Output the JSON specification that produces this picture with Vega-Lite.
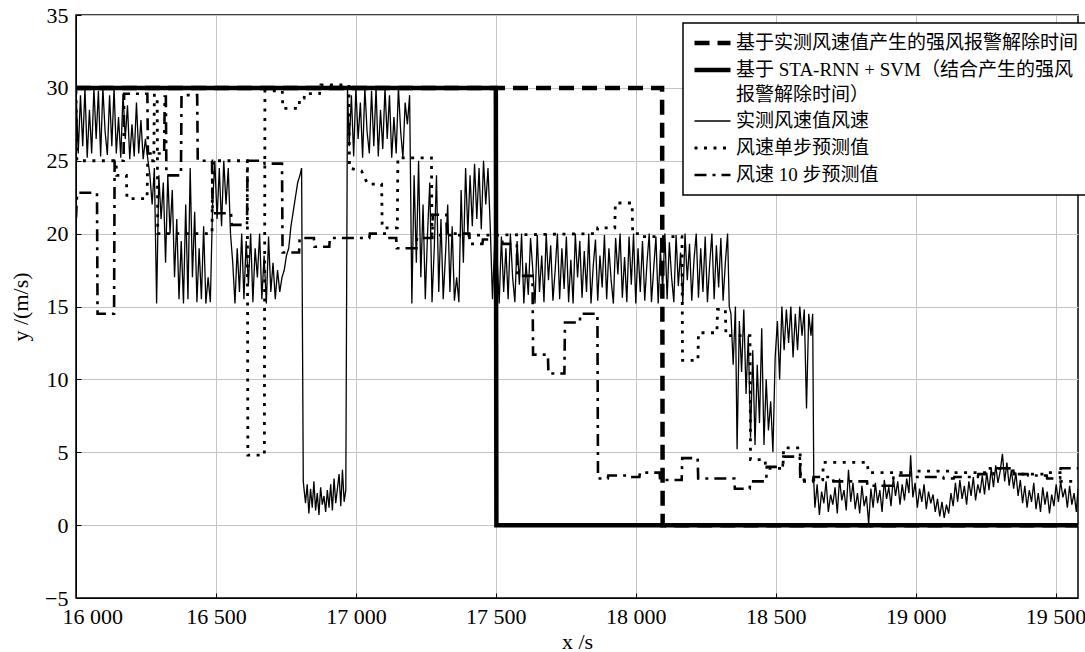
{
  "$schema": "https://vega.github.io/schema/vega-lite/v6.json",
  "width": 1002,
  "height": 583,
  "autosize": {"type": "none"},
  "padding": {"left": 76, "top": 15, "right": 7, "bottom": 54},
  "config": {
    "font": "Liberation Serif",
    "view": {"stroke": "black", "strokeWidth": 1.5},
    "axis": {"gridColor": "#c4c4c4", "gridWidth": 1, "domainColor": "black", "tickColor": "black", "labelColor": "black", "titleColor": "black", "labelFont": "Liberation Serif", "titleFont": "Liberation Serif", "labelFontSize": 22, "titleFontSize": 22, "titleFontWeight": "normal", "ticks": true, "tickSize": -5, "tickWidth": 1},
    "legend": {"title": null, "orient": "none", "legendX": 607, "legendY": 8, "fillColor": "white", "strokeColor": "black", "padding": 9, "symbolType": "stroke", "symbolSize": 1296, "clipHeight": 22, "labelFontSize": 19, "labelFont": "Liberation Serif, Noto Sans CJK SC", "labelColor": "black", "rowPadding": 5, "labelLimit": 420, "labelOffset": 3}
  },
  "data": {"values": [
{"s":"c","t":16000,"v":30},{"s":"c","t":16008,"v":25.5},{"s":"c","t":16016,"v":29.5},{"s":"c","t":16024,"v":26},{"s":"c","t":16032,"v":30},{"s":"c","t":16040,"v":25.2},{"s":"c","t":16048,"v":28.5},{"s":"c","t":16056,"v":25.5},{"s":"c","t":16064,"v":30},{"s":"c","t":16072,"v":26.5},{"s":"c","t":16080,"v":29.8},{"s":"c","t":16088,"v":25.3},{"s":"c","t":16096,"v":30},{"s":"c","t":16104,"v":27},{"s":"c","t":16112,"v":25.4},{"s":"c","t":16120,"v":29.5},{"s":"c","t":16128,"v":26},{"s":"c","t":16136,"v":30},{"s":"c","t":16144,"v":25.5},{"s":"c","t":16152,"v":28},{"s":"c","t":16160,"v":25.2},{"s":"c","t":16168,"v":29.6},{"s":"c","t":16176,"v":26.5},{"s":"c","t":16184,"v":28.8},{"s":"c","t":16192,"v":25.1},{"s":"c","t":16200,"v":27.5},{"s":"c","t":16208,"v":25.3},{"s":"c","t":16216,"v":29},{"s":"c","t":16224,"v":25.5},{"s":"c","t":16232,"v":27.8},{"s":"c","t":16240,"v":25.1},{"s":"c","t":16248,"v":26.5},{"s":"c","t":16256,"v":25.2},
{"s":"c","t":16264,"v":24},{"s":"c","t":16272,"v":22},{"s":"c","t":16280,"v":24.5},{"s":"c","t":16288,"v":15.2},{"s":"c","t":16296,"v":24},{"s":"c","t":16304,"v":21},{"s":"c","t":16312,"v":23.5},{"s":"c","t":16320,"v":18},{"s":"c","t":16328,"v":24},{"s":"c","t":16336,"v":20},{"s":"c","t":16344,"v":23},{"s":"c","t":16352,"v":17},{"s":"c","t":16360,"v":21},{"s":"c","t":16368,"v":15.5},{"s":"c","t":16376,"v":19.5},{"s":"c","t":16384,"v":15.2},{"s":"c","t":16392,"v":22},{"s":"c","t":16400,"v":15.5},{"s":"c","t":16408,"v":24.5},{"s":"c","t":16416,"v":17},{"s":"c","t":16424,"v":21.5},{"s":"c","t":16432,"v":15.3},{"s":"c","t":16440,"v":19},{"s":"c","t":16448,"v":15.5},{"s":"c","t":16456,"v":20.5},{"s":"c","t":16464,"v":15.2},{"s":"c","t":16472,"v":17},{"s":"c","t":16480,"v":15.3},
{"s":"c","t":16488,"v":22},{"s":"c","t":16496,"v":25},{"s":"c","t":16504,"v":21},{"s":"c","t":16512,"v":24.5},{"s":"c","t":16520,"v":20.5},{"s":"c","t":16528,"v":25},{"s":"c","t":16536,"v":22},{"s":"c","t":16544,"v":24.5},{"s":"c","t":16552,"v":20},
{"s":"c","t":16560,"v":18},{"s":"c","t":16568,"v":15.2},{"s":"c","t":16576,"v":19},{"s":"c","t":16584,"v":16},{"s":"c","t":16592,"v":20},{"s":"c","t":16600,"v":15.5},{"s":"c","t":16608,"v":19.5},{"s":"c","t":16616,"v":16.5},{"s":"c","t":16624,"v":20},{"s":"c","t":16632,"v":15.3},{"s":"c","t":16640,"v":19},{"s":"c","t":16648,"v":17},{"s":"c","t":16656,"v":20},{"s":"c","t":16664,"v":15.5},{"s":"c","t":16672,"v":18.5},{"s":"c","t":16680,"v":15.2},{"s":"c","t":16688,"v":19.8},{"s":"c","t":16696,"v":16},{"s":"c","t":16704,"v":18},{"s":"c","t":16712,"v":15.5},{"s":"c","t":16720,"v":17.5},{"s":"c","t":16728,"v":16},{"s":"c","t":16736,"v":17},
{"s":"c","t":16744,"v":17.5},{"s":"c","t":16752,"v":18.5},{"s":"c","t":16760,"v":19},{"s":"c","t":16768,"v":20.5},{"s":"c","t":16776,"v":21.5},{"s":"c","t":16784,"v":22.5},{"s":"c","t":16792,"v":23.5},{"s":"c","t":16800,"v":24},{"s":"c","t":16806,"v":24.5},
{"s":"c","t":16812,"v":3},{"s":"c","t":16820,"v":1.5},{"s":"c","t":16826,"v":2.8},{"s":"c","t":16832,"v":0.8},{"s":"c","t":16838,"v":2.5},{"s":"c","t":16844,"v":1.2},{"s":"c","t":16850,"v":3},{"s":"c","t":16856,"v":1},{"s":"c","t":16862,"v":2.2},{"s":"c","t":16868,"v":0.7},{"s":"c","t":16874,"v":2.6},{"s":"c","t":16880,"v":1.4},{"s":"c","t":16886,"v":2},{"s":"c","t":16892,"v":0.9},{"s":"c","t":16898,"v":2.4},{"s":"c","t":16904,"v":1.2},{"s":"c","t":16910,"v":2.8},{"s":"c","t":16916,"v":1},{"s":"c","t":16922,"v":3.2},{"s":"c","t":16928,"v":1.5},{"s":"c","t":16934,"v":2.5},{"s":"c","t":16940,"v":3.5},{"s":"c","t":16946,"v":1.3},{"s":"c","t":16952,"v":3.8},{"s":"c","t":16958,"v":1.6},{"s":"c","t":16964,"v":2.4},
{"s":"c","t":16970,"v":30},{"s":"c","t":16976,"v":26},{"s":"c","t":16984,"v":29.5},{"s":"c","t":16992,"v":25.3},{"s":"c","t":17000,"v":30},{"s":"c","t":17008,"v":26.5},{"s":"c","t":17016,"v":29},{"s":"c","t":17024,"v":25.2},{"s":"c","t":17032,"v":30},{"s":"c","t":17040,"v":27},{"s":"c","t":17048,"v":25.5},{"s":"c","t":17056,"v":29.8},{"s":"c","t":17064,"v":26},{"s":"c","t":17072,"v":30},{"s":"c","t":17080,"v":25.3},{"s":"c","t":17088,"v":28.5},{"s":"c","t":17096,"v":25.8},{"s":"c","t":17104,"v":30},{"s":"c","t":17112,"v":26.5},{"s":"c","t":17120,"v":29.5},{"s":"c","t":17128,"v":25.2},{"s":"c","t":17136,"v":28},{"s":"c","t":17144,"v":25.5},{"s":"c","t":17152,"v":30},{"s":"c","t":17160,"v":27},{"s":"c","t":17168,"v":25.2},{"s":"c","t":17176,"v":29},{"s":"c","t":17184,"v":27.5},
{"s":"c","t":17192,"v":29.5},{"s":"c","t":17200,"v":15.2},{"s":"c","t":17208,"v":24},{"s":"c","t":17216,"v":18},{"s":"c","t":17224,"v":25},{"s":"c","t":17232,"v":17},{"s":"c","t":17240,"v":22},{"s":"c","t":17248,"v":15.5},{"s":"c","t":17256,"v":20},{"s":"c","t":17264,"v":23.5},{"s":"c","t":17272,"v":15.3},{"s":"c","t":17280,"v":19},{"s":"c","t":17288,"v":24},{"s":"c","t":17296,"v":16},{"s":"c","t":17304,"v":21},{"s":"c","t":17312,"v":15.5},{"s":"c","t":17320,"v":18.5},{"s":"c","t":17328,"v":22},{"s":"c","t":17336,"v":16},{"s":"c","t":17344,"v":20.5},{"s":"c","t":17352,"v":15.4},{"s":"c","t":17360,"v":17},{"s":"c","t":17368,"v":15.3},{"s":"c","t":17376,"v":23},{"s":"c","t":17384,"v":18},{"s":"c","t":17392,"v":24.5},{"s":"c","t":17400,"v":20},
{"s":"c","t":17408,"v":24},{"s":"c","t":17416,"v":20.5},{"s":"c","t":17424,"v":24.8},{"s":"c","t":17432,"v":21},{"s":"c","t":17440,"v":24.5},{"s":"c","t":17448,"v":20.3},{"s":"c","t":17456,"v":25},{"s":"c","t":17464,"v":22},{"s":"c","t":17472,"v":24.5},{"s":"c","t":17480,"v":20.5},{"s":"c","t":17488,"v":15.5},{"s":"c","t":17496,"v":19.5},
{"s":"c","t":17504,"v":18.5},{"s":"c","t":17512,"v":15.2},{"s":"c","t":17520,"v":19.8},{"s":"c","t":17528,"v":16},{"s":"c","t":17536,"v":19},{"s":"c","t":17544,"v":15.5},{"s":"c","t":17552,"v":20},{"s":"c","t":17560,"v":17},{"s":"c","t":17568,"v":15.3},{"s":"c","t":17576,"v":19.5},{"s":"c","t":17584,"v":16.5},{"s":"c","t":17592,"v":20},{"s":"c","t":17600,"v":15.2},{"s":"c","t":17608,"v":18},{"s":"c","t":17616,"v":15.8},{"s":"c","t":17624,"v":19.7},{"s":"c","t":17632,"v":17.5},{"s":"c","t":17640,"v":15.2},{"s":"c","t":17648,"v":19.9},{"s":"c","t":17656,"v":16},{"s":"c","t":17664,"v":18.5},{"s":"c","t":17672,"v":15.3},{"s":"c","t":17680,"v":20},{"s":"c","t":17688,"v":16.8},{"s":"c","t":17696,"v":19.2},{"s":"c","t":17704,"v":15.4},{"s":"c","t":17712,"v":17.5},{"s":"c","t":17720,"v":20},{"s":"c","t":17728,"v":15.5},{"s":"c","t":17736,"v":19},{"s":"c","t":17744,"v":16.2},{"s":"c","t":17752,"v":19.8},{"s":"c","t":17760,"v":15.3},{"s":"c","t":17768,"v":18.2},{"s":"c","t":17776,"v":15.2},{"s":"c","t":17784,"v":20},{"s":"c","t":17792,"v":17},{"s":"c","t":17800,"v":19.5},{"s":"c","t":17808,"v":15.6},{"s":"c","t":17816,"v":18.8},{"s":"c","t":17824,"v":16},{"s":"c","t":17832,"v":20},{"s":"c","t":17840,"v":15.2},{"s":"c","t":17848,"v":17.8},{"s":"c","t":17856,"v":19.6},{"s":"c","t":17864,"v":15.4},{"s":"c","t":17872,"v":18.5},{"s":"c","t":17880,"v":16.3},{"s":"c","t":17888,"v":19.9},{"s":"c","t":17896,"v":15.5},{"s":"c","t":17904,"v":19},{"s":"c","t":17912,"v":16.8},{"s":"c","t":17920,"v":15.2},{"s":"c","t":17928,"v":19.7},{"s":"c","t":17936,"v":17.2},{"s":"c","t":17944,"v":20},{"s":"c","t":17952,"v":15.6},{"s":"c","t":17960,"v":18.4},{"s":"c","t":17968,"v":15.3},{"s":"c","t":17976,"v":19.8},{"s":"c","t":17984,"v":16.5},{"s":"c","t":17992,"v":20},{"s":"c","t":18000,"v":15.2},{"s":"c","t":18008,"v":19},{"s":"c","t":18016,"v":16},{"s":"c","t":18024,"v":19.5},{"s":"c","t":18032,"v":15.4},{"s":"c","t":18040,"v":18},{"s":"c","t":18048,"v":20},{"s":"c","t":18056,"v":15.3},{"s":"c","t":18064,"v":17.6},{"s":"c","t":18072,"v":19.8},{"s":"c","t":18080,"v":15.2},{"s":"c","t":18088,"v":18.9},{"s":"c","t":18096,"v":16.2},{"s":"c","t":18104,"v":20},{"s":"c","t":18112,"v":15.5},{"s":"c","t":18120,"v":19.4},{"s":"c","t":18128,"v":17},{"s":"c","t":18136,"v":15.3},{"s":"c","t":18144,"v":19.9},{"s":"c","t":18152,"v":16.4},{"s":"c","t":18160,"v":18.7},{"s":"c","t":18168,"v":15.2},{"s":"c","t":18176,"v":20},{"s":"c","t":18184,"v":16.8},{"s":"c","t":18192,"v":19.3},{"s":"c","t":18200,"v":15.4},{"s":"c","t":18208,"v":18.2},{"s":"c","t":18216,"v":20},{"s":"c","t":18224,"v":15.6},{"s":"c","t":18232,"v":19},{"s":"c","t":18240,"v":16},{"s":"c","t":18248,"v":19.8},{"s":"c","t":18256,"v":15.3},{"s":"c","t":18264,"v":17.9},{"s":"c","t":18272,"v":20},{"s":"c","t":18280,"v":15.5},{"s":"c","t":18288,"v":19.2},{"s":"c","t":18296,"v":16.3},{"s":"c","t":18304,"v":19.7},{"s":"c","t":18312,"v":15.4},{"s":"c","t":18320,"v":18},{"s":"c","t":18328,"v":20},
{"s":"c","t":18334,"v":15},{"s":"c","t":18340,"v":14.5},{"s":"c","t":18348,"v":11},{"s":"c","t":18356,"v":15},{"s":"c","t":18362,"v":5.2},{"s":"c","t":18370,"v":14},{"s":"c","t":18378,"v":10.5},{"s":"c","t":18386,"v":14.8},{"s":"c","t":18394,"v":9},{"s":"c","t":18402,"v":13},{"s":"c","t":18410,"v":6},{"s":"c","t":18418,"v":12},{"s":"c","t":18426,"v":5.5},{"s":"c","t":18434,"v":11},{"s":"c","t":18442,"v":7},{"s":"c","t":18450,"v":13.5},{"s":"c","t":18458,"v":5.5},{"s":"c","t":18466,"v":10},{"s":"c","t":18474,"v":6.5},{"s":"c","t":18482,"v":8.5},{"s":"c","t":18490,"v":5},{"s":"c","t":18498,"v":11.5},{"s":"c","t":18506,"v":14},{"s":"c","t":18514,"v":10},{"s":"c","t":18522,"v":15},{"s":"c","t":18530,"v":12},{"s":"c","t":18538,"v":14.8},{"s":"c","t":18546,"v":12.5},{"s":"c","t":18554,"v":15},{"s":"c","t":18562,"v":11.5},{"s":"c","t":18570,"v":14.5},{"s":"c","t":18578,"v":12},{"s":"c","t":18586,"v":15},{"s":"c","t":18594,"v":13},{"s":"c","t":18602,"v":14.8},{"s":"c","t":18610,"v":8},{"s":"c","t":18618,"v":14.5},{"s":"c","t":18626,"v":13},{"s":"c","t":18632,"v":14.5},
{"s":"c","t":18636,"v":3},{"s":"c","t":18640,"v":1.2},{"s":"c","t":18648,"v":2.8},{"s":"c","t":18656,"v":0.7},{"s":"c","t":18664,"v":2.3},{"s":"c","t":18672,"v":1.5},{"s":"c","t":18680,"v":3},{"s":"c","t":18688,"v":0.9},{"s":"c","t":18696,"v":2.1},{"s":"c","t":18704,"v":1.4},{"s":"c","t":18712,"v":2.6},{"s":"c","t":18720,"v":0.8},{"s":"c","t":18728,"v":3.2},{"s":"c","t":18736,"v":1.7},{"s":"c","t":18744,"v":2.4},{"s":"c","t":18752,"v":1},{"s":"c","t":18760,"v":3.8},{"s":"c","t":18768,"v":1.6},{"s":"c","t":18776,"v":2.9},{"s":"c","t":18784,"v":1.1},{"s":"c","t":18792,"v":2.2},{"s":"c","t":18800,"v":0.8},{"s":"c","t":18808,"v":2.7},{"s":"c","t":18816,"v":1.3},{"s":"c","t":18824,"v":2},{"s":"c","t":18832,"v":0.1},{"s":"c","t":18840,"v":2.5},{"s":"c","t":18848,"v":1.2},{"s":"c","t":18856,"v":2.9},{"s":"c","t":18864,"v":1.5},{"s":"c","t":18872,"v":2.4},{"s":"c","t":18880,"v":0.9},{"s":"c","t":18888,"v":3.1},{"s":"c","t":18896,"v":1.8},{"s":"c","t":18904,"v":2.6},{"s":"c","t":18912,"v":1.3},{"s":"c","t":18920,"v":3.3},{"s":"c","t":18928,"v":2},{"s":"c","t":18936,"v":3},{"s":"c","t":18944,"v":1.4},{"s":"c","t":18952,"v":2.8},{"s":"c","t":18960,"v":1.7},{"s":"c","t":18968,"v":3.2},{"s":"c","t":18976,"v":2.2},{"s":"c","t":18982,"v":4.8},{"s":"c","t":18990,"v":1.9},{"s":"c","t":18998,"v":2.9},{"s":"c","t":19006,"v":1.2},{"s":"c","t":19014,"v":2.5},{"s":"c","t":19022,"v":1.6},{"s":"c","t":19030,"v":2.8},{"s":"c","t":19038,"v":1.1},{"s":"c","t":19046,"v":2.3},{"s":"c","t":19054,"v":1.5},{"s":"c","t":19062,"v":2.1},{"s":"c","t":19070,"v":0.9},{"s":"c","t":19078,"v":1.8},{"s":"c","t":19086,"v":0.6},{"s":"c","t":19094,"v":1.6},{"s":"c","t":19102,"v":0.5},{"s":"c","t":19110,"v":1.4},{"s":"c","t":19118,"v":0.8},{"s":"c","t":19126,"v":2.2},{"s":"c","t":19134,"v":1.3},{"s":"c","t":19142,"v":2.9},{"s":"c","t":19150,"v":1.6},{"s":"c","t":19158,"v":3.1},{"s":"c","t":19166,"v":1.8},{"s":"c","t":19174,"v":2.7},{"s":"c","t":19182,"v":1.4},{"s":"c","t":19190,"v":3},{"s":"c","t":19198,"v":2},{"s":"c","t":19206,"v":3.3},{"s":"c","t":19214,"v":1.7},{"s":"c","t":19222,"v":2.8},{"s":"c","t":19230,"v":2.2},{"s":"c","t":19238,"v":3.4},{"s":"c","t":19246,"v":2.1},{"s":"c","t":19254,"v":3.6},{"s":"c","t":19262,"v":2.4},{"s":"c","t":19270,"v":3.9},{"s":"c","t":19278,"v":2.6},{"s":"c","t":19286,"v":4.1},{"s":"c","t":19294,"v":2.9},{"s":"c","t":19302,"v":3.7},{"s":"c","t":19310,"v":4.9},{"s":"c","t":19318,"v":3},{"s":"c","t":19326,"v":4.3},{"s":"c","t":19334,"v":2.7},{"s":"c","t":19342,"v":3.8},{"s":"c","t":19350,"v":2.5},{"s":"c","t":19358,"v":3.6},{"s":"c","t":19366,"v":2},{"s":"c","t":19374,"v":3.1},{"s":"c","t":19382,"v":1.5},{"s":"c","t":19390,"v":2.7},{"s":"c","t":19398,"v":1.2},{"s":"c","t":19406,"v":2.4},{"s":"c","t":19414,"v":1.6},{"s":"c","t":19422,"v":2.9},{"s":"c","t":19430,"v":1.1},{"s":"c","t":19438,"v":2.2},{"s":"c","t":19446,"v":0.9},{"s":"c","t":19454,"v":2.6},{"s":"c","t":19462,"v":1.4},{"s":"c","t":19470,"v":2.3},{"s":"c","t":19478,"v":0.8},{"s":"c","t":19486,"v":2.1},{"s":"c","t":19494,"v":1.3},{"s":"c","t":19502,"v":2.8},{"s":"c","t":19510,"v":1.6},{"s":"c","t":19518,"v":3},{"s":"c","t":19526,"v":1.9},{"s":"c","t":19534,"v":2.5},{"s":"c","t":19542,"v":1.2},{"s":"c","t":19550,"v":2.7},{"s":"c","t":19558,"v":1.4},{"s":"c","t":19566,"v":2.2},{"s":"c","t":19574,"v":0.9},{"s":"c","t":19580,"v":2.5},
{"s":"d","t":16000,"v":29.8},{"s":"d","t":16003,"v":25},{"s":"d","t":16143,"v":25},{"s":"d","t":16145,"v":24},{"s":"d","t":16180,"v":24},{"s":"d","t":16182,"v":22.4},{"s":"d","t":16254,"v":22.4},{"s":"d","t":16256,"v":25},{"s":"d","t":16278,"v":25},{"s":"d","t":16280,"v":29.5},{"s":"d","t":16290,"v":29.5},{"s":"d","t":16292,"v":20},{"s":"d","t":16486,"v":20},{"s":"d","t":16488,"v":25},{"s":"d","t":16612,"v":25},{"s":"d","t":16614,"v":4.8},{"s":"d","t":16673,"v":4.8},{"s":"d","t":16675,"v":29.8},{"s":"d","t":16737,"v":29.8},{"s":"d","t":16739,"v":28.6},{"s":"d","t":16797,"v":28.6},{"s":"d","t":16799,"v":29.3},{"s":"d","t":16815,"v":29.3},{"s":"d","t":16817,"v":29.6},{"s":"d","t":16870,"v":29.6},{"s":"d","t":16875,"v":30.2},{"s":"d","t":16975,"v":30.2},{"s":"d","t":16977,"v":24.5},{"s":"d","t":17020,"v":24.3},{"s":"d","t":17042,"v":23.4},{"s":"d","t":17092,"v":23.4},{"s":"d","t":17094,"v":20.4},{"s":"d","t":17148,"v":20.4},{"s":"d","t":17150,"v":25.2},{"s":"d","t":17270,"v":25.2},{"s":"d","t":17272,"v":19.9},{"s":"d","t":17500,"v":19.9},{"s":"d","t":17862,"v":20},{"s":"d","t":17864,"v":20.4},{"s":"d","t":17925,"v":20.4},{"s":"d","t":17927,"v":22.1},{"s":"d","t":17987,"v":22.1},{"s":"d","t":17989,"v":20},{"s":"d","t":18014,"v":20},{"s":"d","t":18016,"v":19.8},{"s":"d","t":18165,"v":19.8},{"s":"d","t":18167,"v":11.3},{"s":"d","t":18222,"v":11.3},{"s":"d","t":18224,"v":13.2},{"s":"d","t":18290,"v":13.2},{"s":"d","t":18292,"v":14.8},{"s":"d","t":18320,"v":14.8},{"s":"d","t":18322,"v":13},{"s":"d","t":18408,"v":13},{"s":"d","t":18410,"v":4.5},{"s":"d","t":18462,"v":4.5},{"s":"d","t":18464,"v":3.9},{"s":"d","t":18526,"v":3.9},{"s":"d","t":18528,"v":5.3},{"s":"d","t":18587,"v":5.3},{"s":"d","t":18589,"v":3.1},{"s":"d","t":18668,"v":3.1},{"s":"d","t":18670,"v":4.3},{"s":"d","t":18828,"v":4.3},{"s":"d","t":18830,"v":3.6},{"s":"d","t":18990,"v":3.6},{"s":"d","t":18992,"v":3.7},{"s":"d","t":19135,"v":3.7},{"s":"d","t":19137,"v":3.6},{"s":"d","t":19256,"v":3.6},{"s":"d","t":19258,"v":3.9},{"s":"d","t":19350,"v":3.9},{"s":"d","t":19352,"v":3.5},{"s":"d","t":19470,"v":3.5},{"s":"d","t":19472,"v":3.6},{"s":"d","t":19516,"v":3.6},{"s":"d","t":19518,"v":3},{"s":"d","t":19580,"v":3},
{"s":"e","t":16000,"v":21.1},{"s":"e","t":16004,"v":22.8},{"s":"e","t":16075,"v":22.8},{"s":"e","t":16077,"v":14.5},{"s":"e","t":16136,"v":14.5},{"s":"e","t":16138,"v":25},{"s":"e","t":16170,"v":25},{"s":"e","t":16172,"v":29.6},{"s":"e","t":16255,"v":29.6},{"s":"e","t":16257,"v":25.5},{"s":"e","t":16315,"v":25.5},{"s":"e","t":16317,"v":29.4},{"s":"e","t":16321,"v":29.4},{"s":"e","t":16323,"v":24},{"s":"e","t":16375,"v":24},{"s":"e","t":16377,"v":29.5},{"s":"e","t":16433,"v":29.5},{"s":"e","t":16435,"v":25},{"s":"e","t":16486,"v":25},{"s":"e","t":16488,"v":21.4},{"s":"e","t":16554,"v":21.4},{"s":"e","t":16556,"v":20.6},{"s":"e","t":16611,"v":20.6},{"s":"e","t":16613,"v":25},{"s":"e","t":16672,"v":25},{"s":"e","t":16674,"v":24.8},{"s":"e","t":16736,"v":24.8},{"s":"e","t":16738,"v":18.7},{"s":"e","t":16797,"v":18.7},{"s":"e","t":16799,"v":19.7},{"s":"e","t":16850,"v":19.7},{"s":"e","t":16852,"v":19.1},{"s":"e","t":16905,"v":19.1},{"s":"e","t":16907,"v":19.7},{"s":"e","t":17048,"v":19.7},{"s":"e","t":17050,"v":20},{"s":"e","t":17118,"v":20},{"s":"e","t":17120,"v":19.7},{"s":"e","t":17144,"v":19.7},{"s":"e","t":17146,"v":19},{"s":"e","t":17216,"v":19},{"s":"e","t":17218,"v":19.7},{"s":"e","t":17273,"v":19.7},{"s":"e","t":17275,"v":21.3},{"s":"e","t":17323,"v":21.3},{"s":"e","t":17325,"v":20},{"s":"e","t":17405,"v":20},{"s":"e","t":17407,"v":19.3},{"s":"e","t":17452,"v":19.3},{"s":"e","t":17454,"v":19.6},{"s":"e","t":17522,"v":19.6},{"s":"e","t":17524,"v":19.3},{"s":"e","t":17575,"v":19.3},{"s":"e","t":17577,"v":17.1},{"s":"e","t":17631,"v":17.1},{"s":"e","t":17633,"v":11.7},{"s":"e","t":17686,"v":11.7},{"s":"e","t":17688,"v":10.4},{"s":"e","t":17745,"v":10.4},{"s":"e","t":17747,"v":13.9},{"s":"e","t":17800,"v":13.9},{"s":"e","t":17802,"v":14.5},{"s":"e","t":17863,"v":14.5},{"s":"e","t":17865,"v":3.2},{"s":"e","t":17900,"v":3.2},{"s":"e","t":17902,"v":3.4},{"s":"e","t":17970,"v":3.4},{"s":"e","t":17972,"v":3.3},{"s":"e","t":18013,"v":3.3},{"s":"e","t":18015,"v":3.6},{"s":"e","t":18085,"v":3.6},{"s":"e","t":18087,"v":3.1},{"s":"e","t":18164,"v":3.1},{"s":"e","t":18166,"v":4.6},{"s":"e","t":18221,"v":4.6},{"s":"e","t":18223,"v":3.2},{"s":"e","t":18352,"v":3.2},{"s":"e","t":18354,"v":2.5},{"s":"e","t":18407,"v":2.5},{"s":"e","t":18409,"v":3},{"s":"e","t":18466,"v":3},{"s":"e","t":18468,"v":4},{"s":"e","t":18525,"v":4},{"s":"e","t":18527,"v":4.7},{"s":"e","t":18586,"v":4.7},{"s":"e","t":18588,"v":3},{"s":"e","t":18633,"v":3},{"s":"e","t":18635,"v":3.3},{"s":"e","t":18704,"v":3.3},{"s":"e","t":18706,"v":3},{"s":"e","t":18826,"v":3},{"s":"e","t":18828,"v":2.7},{"s":"e","t":18919,"v":2.7},{"s":"e","t":18921,"v":3.4},{"s":"e","t":18991,"v":3.4},{"s":"e","t":18993,"v":3.3},{"s":"e","t":19098,"v":3.3},{"s":"e","t":19100,"v":3.2},{"s":"e","t":19136,"v":3.2},{"s":"e","t":19138,"v":3.3},{"s":"e","t":19222,"v":3.3},{"s":"e","t":19224,"v":3.5},{"s":"e","t":19278,"v":3.5},{"s":"e","t":19280,"v":3.9},{"s":"e","t":19348,"v":3.9},{"s":"e","t":19350,"v":3.5},{"s":"e","t":19400,"v":3.5},{"s":"e","t":19402,"v":3.4},{"s":"e","t":19468,"v":3.4},{"s":"e","t":19470,"v":3.2},{"s":"e","t":19516,"v":3.2},{"s":"e","t":19518,"v":3.9},{"s":"e","t":19580,"v":3.9},
{"s":"a","t":16000,"v":30},{"s":"a","t":18094,"v":30},{"s":"a","t":18096,"v":0},{"s":"a","t":19580,"v":0},
{"s":"b","t":16000,"v":30},{"s":"b","t":17500,"v":30},{"s":"b","t":17502,"v":0},{"s":"b","t":19580,"v":0}
  ]},
  "mark": {"type": "line", "clip": true},
  "encoding": {
    "x": {"field": "t", "type": "quantitative", "scale": {"domain": [16000, 19580], "nice": false, "zero": false},
      "axis": {"values": [16000, 16500, 17000, 17500, 18000, 18500, 19000, 19500], "labelExpr": "replace(format(datum.value, ','), ',', ' ')", "labelFlushOffset": 14, "title": "x /s", "labelPadding": 13, "titlePadding": 4}},
    "y": {"field": "v", "type": "quantitative", "scale": {"domain": [-5, 35], "nice": false, "zero": false},
      "axis": {"values": [-5, 0, 5, 10, 15, 20, 25, 30, 35], "title": "y /(m/s)", "labelPadding": 13, "titlePadding": 12}},
    "color": {"field": "s", "type": "nominal", "scale": {"domain": ["a", "b", "c", "d", "e"], "range": ["black", "black", "black", "black", "black"]},
      "legend": {
        "encode": {"legend": {"update": {"strokeWidth": {"value": 1.5}}}, "labels": {"update": {"lineHeight": {"value": 25}, "text": {"signal": "datum.value == 'a' ? '基于实测风速值产生的强风报警解除时间' : datum.value == 'b' ? ['基于 STA-RNN + SVM（结合产生的强风', '报警解除时间）'] : datum.value == 'c' ? '实测风速值风速' : datum.value == 'd' ? '风速单步预测值' : '风速 10 步预测值'"}}}}}},
    "strokeDash": {"field": "s", "type": "nominal", "scale": {"domain": ["a", "b", "c", "d", "e"], "range": [[15, 8], [1, 0], [1, 0], [3, 6.5], [12, 6, 3, 6]]},
      "legend": {
        "encode": {"legend": {"update": {"strokeWidth": {"value": 1.5}}}, "labels": {"update": {"lineHeight": {"value": 25}, "text": {"signal": "datum.value == 'a' ? '基于实测风速值产生的强风报警解除时间' : datum.value == 'b' ? ['基于 STA-RNN + SVM（结合产生的强风', '报警解除时间）'] : datum.value == 'c' ? '实测风速值风速' : datum.value == 'd' ? '风速单步预测值' : '风速 10 步预测值'"}}}}}},
    "strokeWidth": {"field": "s", "type": "nominal", "scale": {"type": "ordinal", "domain": ["a", "b", "c", "d", "e"], "range": [4.5, 4.5, 1.3, 2.8, 2.6]},
      "legend": {
        "encode": {"legend": {"update": {"strokeWidth": {"value": 1.5}}}, "labels": {"update": {"lineHeight": {"value": 25}, "text": {"signal": "datum.value == 'a' ? '基于实测风速值产生的强风报警解除时间' : datum.value == 'b' ? ['基于 STA-RNN + SVM（结合产生的强风', '报警解除时间）'] : datum.value == 'c' ? '实测风速值风速' : datum.value == 'd' ? '风速单步预测值' : '风速 10 步预测值'"}}}}}}
  }
}
